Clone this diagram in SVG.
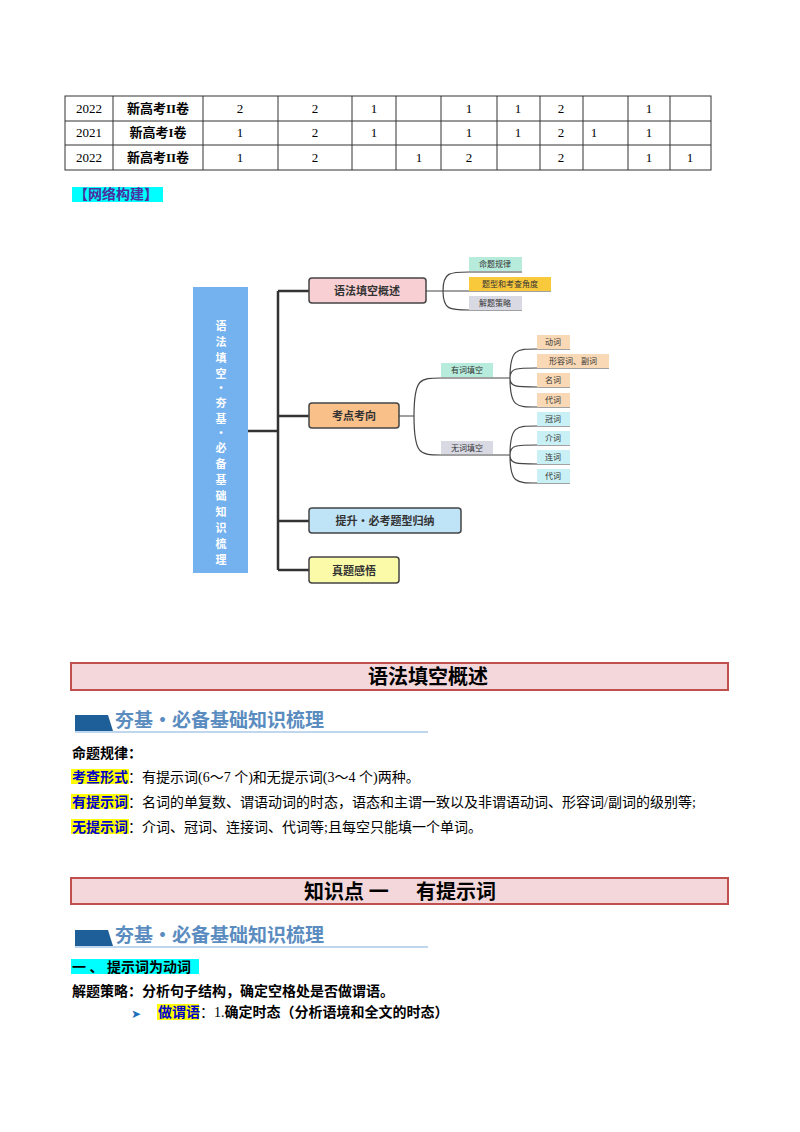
<svg xmlns="http://www.w3.org/2000/svg" width="800" height="1132" viewBox="0 0 800 1132">
<style>
.s{font-family:"Liberation Serif","Noto Sans CJK SC",serif;font-size:13px;fill:#000}
.t{font-family:"Liberation Serif","Noto Sans CJK SC",serif;font-size:14px;fill:#000}
.b{font-weight:bold}
.c{text-anchor:middle}
.m{font-family:"Noto Sans CJK SC",sans-serif;fill:#333;text-anchor:middle}
.leaf{font-family:"Noto Sans CJK SC",sans-serif;font-size:8px;fill:#333;text-anchor:middle}
.cn{fill:none;stroke:#444;stroke-width:1.2}
.tr{fill:none;stroke:#333;stroke-width:2.5}
.box{stroke:#444;stroke-width:1.5}
.hd{fill:#f3d7da;stroke:#c0504d;stroke-width:2}
.bn{font-family:"Noto Sans CJK SC",serif;font-size:19px;font-weight:bold;fill:#5b8cc0}
</style>
<rect width="800" height="1132" fill="#fff"/>
<g id="table" fill="none" stroke="#333" stroke-width="1">
<rect x="65" y="96" width="646" height="74"/>
<line x1="65" y1="121" x2="711" y2="121"/><line x1="65" y1="145" x2="711" y2="145"/>
<path d="M113 96V170M203 96V170M278 96V170M352 96V170M396 96V170M441 96V170M497 96V170M540 96V170M583 96V170M628 96V170M670 96V170"/>
</g>
<g id="table-text" class="s c">
<text x="89" y="113">2022</text><text x="158" y="113" class="b">新高考II卷</text>
<text x="240" y="113">2</text><text x="315" y="113">2</text><text x="374" y="113">1</text><text x="469" y="113">1</text><text x="518" y="113">1</text><text x="561" y="113">2</text><text x="649" y="113">1</text>
<text x="89" y="137">2021</text><text x="158" y="137" class="b">新高考I卷</text>
<text x="240" y="137">1</text><text x="315" y="137">2</text><text x="374" y="137">1</text><text x="469" y="137">1</text><text x="518" y="137">1</text><text x="561" y="137">2</text><text x="594" y="137">1</text><text x="649" y="137">1</text>
<text x="89" y="162">2022</text><text x="158" y="162" class="b">新高考II卷</text>
<text x="240" y="162">1</text><text x="315" y="162">2</text><text x="419" y="162">1</text><text x="469" y="162">2</text><text x="561" y="162">2</text><text x="649" y="162">1</text><text x="690" y="162">1</text>
</g>
<g id="net-title"><rect x="72" y="187" width="91" height="15" fill="#00ffff"/><text x="74" y="199" class="t b" style="fill:#4b2fa0">【网络构建】</text></g>
<g id="connectors">
<path class="tr" d="M248 431H278M278 291V570M278 291H309M278 416H309M278 521H309M278 570H309"/>
<path class="cn" d="M426 291H443M443 291C443 272 450 272 469 272H522M443 291H551M443 291C443 310 450 310 469 310H522"/>
<path class="cn" d="M399 416H414M414 416C414 378 420 378 441 378H493M414 416C414 455 420 455 441 455H493"/>
<path class="cn" d="M493 378H510M510 378C510 349 516 349 537 349H570M510 378C510 368 516 368 537 368H609M510 378C510 387 516 387 537 387H570M510 378C510 407 516 407 537 407H570"/>
<path class="cn" d="M493 455H510M510 455C510 426 516 426 537 426H570M510 455C510 445 516 445 537 445H570M510 455C510 464 516 464 537 464H570M510 455C510 483 516 483 537 483H570"/>
</g>
<g id="root"><rect x="193" y="287" width="55" height="286" fill="#74b1ef"/>
<g class="m" font-size="11" font-weight="bold" style="fill:#fff">
<text x="221" y="330">语</text><text x="221" y="346">法</text><text x="221" y="362">填</text><text x="221" y="378">空</text><text x="221" y="392">·</text><text x="221" y="407">夯</text><text x="221" y="423">基</text><text x="221" y="437">·</text><text x="221" y="452">必</text><text x="221" y="468">备</text><text x="221" y="484">基</text><text x="221" y="500">础</text><text x="221" y="516">知</text><text x="221" y="532">识</text><text x="221" y="548">梳</text><text x="221" y="564">理</text></g></g>
<g id="n1"><rect class="box" x="309" y="278" width="117" height="25" rx="3" fill="#f8d0d4"/><text class="m" x="367" y="295" font-size="11" font-weight="bold">语法填空概述</text></g>
<g id="n2"><rect class="box" x="309" y="403" width="90" height="25" rx="3" fill="#f9c08a"/><text class="m" x="354" y="420" font-size="11" font-weight="bold">考点考向</text></g>
<g id="n3"><rect class="box" x="309" y="508" width="152" height="25" rx="3" fill="#bfe3f7"/><text class="m" x="385" y="525" font-size="11" font-weight="bold">提升·必考题型归纳</text></g>
<g id="n4"><rect class="box" x="309" y="557" width="90" height="26" rx="3" fill="#fafaa8"/><text class="m" x="354" y="575" font-size="11" font-weight="bold">真题感悟</text></g>
<g id="l1"><rect x="469" y="257" width="53" height="14" fill="#b7ecdc"/><text class="leaf" x="495" y="267">命题规律</text></g>
<g id="l2"><rect x="469" y="277" width="82" height="14" fill="#f9c93c"/><text class="leaf" x="510" y="287">题型和考查角度</text></g>
<g id="l3"><rect x="469" y="296" width="53" height="14" fill="#d9d9e3"/><text class="leaf" x="495" y="306">解题策略</text></g>
<g id="y1"><rect x="441" y="363" width="52" height="14" fill="#b7ecdc"/><text class="leaf" x="467" y="373">有词填空</text></g>
<g id="w1"><rect x="441" y="441" width="52" height="13" fill="#d9d9e3"/><text class="leaf" x="467" y="451">无词填空</text></g>
<g id="a1"><rect x="537" y="335" width="33" height="14" fill="#f9d9b5"/><text class="leaf" x="553" y="345">动词</text></g>
<g id="a2"><rect x="537" y="354" width="72" height="14" fill="#f9d9b5"/><text class="leaf" x="573" y="364">形容词、副词</text></g>
<g id="a3"><rect x="537" y="373" width="33" height="14" fill="#f9d9b5"/><text class="leaf" x="553" y="383">名词</text></g>
<g id="a4"><rect x="537" y="393" width="33" height="14" fill="#f9d9b5"/><text class="leaf" x="553" y="403">代词</text></g>
<g id="b1"><rect x="537" y="412" width="33" height="14" fill="#c9f0f5"/><text class="leaf" x="553" y="422">冠词</text></g>
<g id="b2"><rect x="537" y="431" width="33" height="14" fill="#c9f0f5"/><text class="leaf" x="553" y="441">介词</text></g>
<g id="b3"><rect x="537" y="450" width="33" height="14" fill="#c9f0f5"/><text class="leaf" x="553" y="460">连词</text></g>
<g id="b4"><rect x="537" y="469" width="33" height="14" fill="#c9f0f5"/><text class="leaf" x="553" y="479">代词</text></g>
<g id="sec1">
<rect class="hd" x="71" y="663" width="657" height="27"/>
<text x="428" y="684" class="c" font-family="Noto Sans CJK SC,sans-serif" font-size="20" font-weight="bold">语法填空概述</text>
<polygon points="75,715 108,715 113,731 75,731" fill="#1f5f99"/><line x1="75" y1="732" x2="428" y2="732" stroke="#a8c8e8" stroke-width="1.5"/>
<text x="115" y="727" class="bn">夯基·必备基础知识梳理</text>
<text x="72" y="758" class="t b">命题规律：</text>
<rect x="71" y="769" width="58" height="15" fill="#ffff00"/><text x="72" y="782" class="t"><tspan class="b" fill="#0000cc">考查形式</tspan>：有提示词(6～7 个)和无提示词(3～4 个)两种。</text>
<rect x="71" y="794" width="58" height="15" fill="#ffff00"/><text x="72" y="807" class="t"><tspan class="b" fill="#0000cc">有提示词</tspan>：名词的单复数、谓语动词的时态，语态和主谓一致以及非谓语动词、形容词/副词的级别等;</text>
<rect x="71" y="819" width="58" height="15" fill="#ffff00"/><text x="72" y="832" class="t"><tspan class="b" fill="#0000cc">无提示词</tspan>：介词、冠词、连接词、代词等;且每空只能填一个单词。</text>
</g>
<g id="sec2">
<rect class="hd" x="71" y="878" width="657" height="26"/>
<text x="400" y="899" class="c" font-family="Noto Sans CJK SC,sans-serif" font-size="20" font-weight="bold" xml:space="preserve">知识点 一      有提示词</text>
<polygon points="75,930 108,930 113,946 75,946" fill="#1f5f99"/><line x1="75" y1="947" x2="428" y2="947" stroke="#a8c8e8" stroke-width="1.5"/>
<text x="115" y="942" class="bn">夯基·必备基础知识梳理</text>
<rect x="71" y="959" width="128" height="15" fill="#00ffff"/><text x="72" y="972" class="t b" xml:space="preserve">一 、 提示词为动词</text>
<text x="72" y="996" class="t b">解题策略：分析句子结构，确定空格处是否做谓语。</text>
<text x="131" y="1018" font-family="DejaVu Sans,sans-serif" font-size="12" fill="#1f6fc0">➤</text>
<rect x="157" y="1004" width="42" height="16" fill="#ffff00"/><text x="158" y="1017" class="t b"><tspan fill="#0000cc">做谓语</tspan><tspan font-weight="normal">：1.</tspan>确定时态（分析语境和全文的时态）</text>
</g>
</svg>
